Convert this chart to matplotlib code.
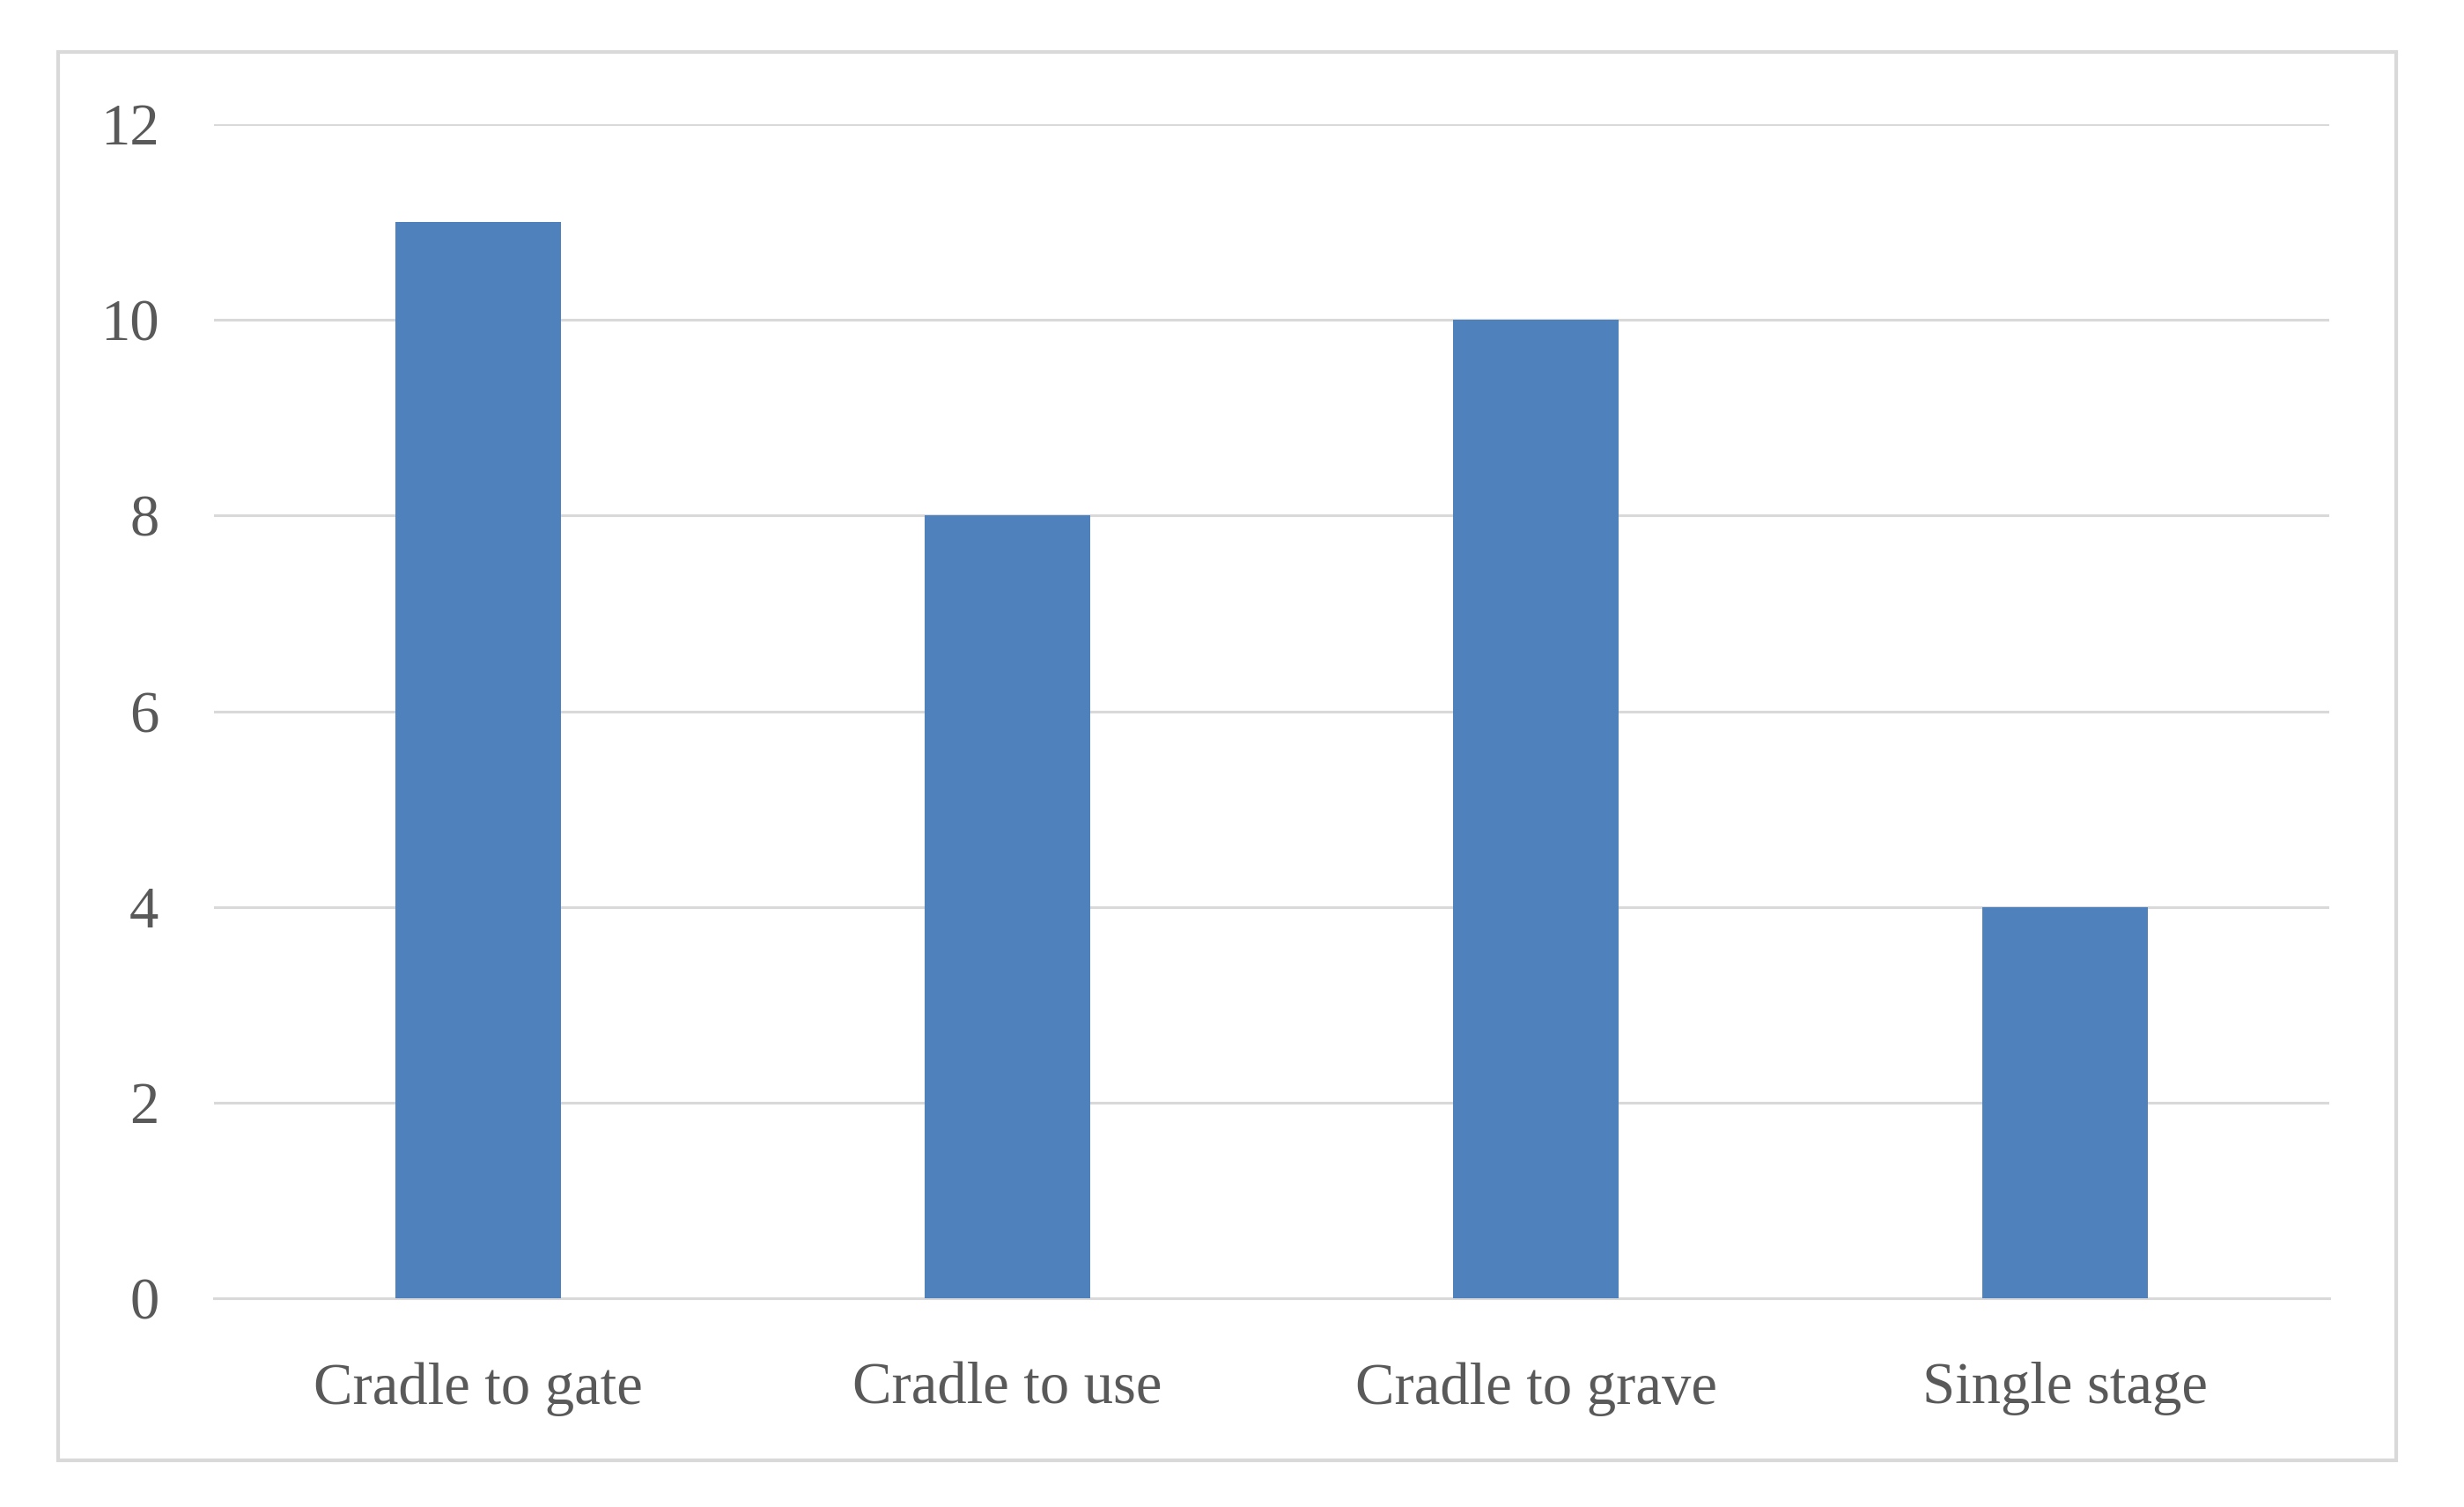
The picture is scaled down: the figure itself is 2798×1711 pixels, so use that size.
import matplotlib
matplotlib.use("Agg")
import matplotlib.pyplot as plt
from matplotlib.patches import Rectangle

categories = ["Cradle to gate", "Cradle to use", "Cradle to grave", "Single stage"]
counts = [11, 8, 10, 4]
yticks = [0, 2, 4, 6, 8, 10, 12]

bar_color = "#4F81BD"
grid_color = "#D9D9D9"
text_color = "#595959"

plt.rcParams['font.family'] = ['Liberation Serif', 'DejaVu Serif']

fig = plt.figure(figsize=(27.98, 17.11), dpi=100)
ax = fig.add_axes([0.0868, 0.1385, 0.8585, 0.7791])

# outer chart border
fig.patches.append(Rectangle((0.0236, 0.031), 0.9489, 0.9345, transform=fig.transFigure,
                             fill=False, edgecolor=grid_color, linewidth=3))

x = range(len(categories))
ax.bar(x, counts, width=0.313, color=bar_color, zorder=3)

ax.set_xlim(-0.5, len(categories) - 0.5)
ax.set_ylim(0, 12)
ax.set_yticks(yticks)
ax.set_yticklabels([str(t) for t in yticks])
ax.set_xticks(list(x))
ax.set_xticklabels(categories)

ax.yaxis.grid(True, color=grid_color, linewidth=2.2, zorder=0)
ax.set_axisbelow(True)
for s in ["top", "right", "left"]:
    ax.spines[s].set_visible(False)
ax.spines["bottom"].set_color(grid_color)
ax.spines["bottom"].set_linewidth(2.2)
ax.spines["bottom"].set_zorder(1)

ax.tick_params(axis="both", length=0, colors=text_color, labelsize=48)
ax.tick_params(axis="y", pad=45)
ax.tick_params(axis="x", pad=52)

fig.savefig("out.png", dpi=100, facecolor="white")
